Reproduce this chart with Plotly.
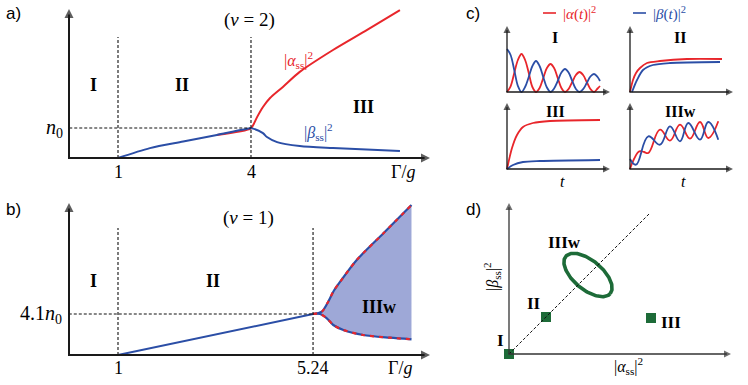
import numpy as np
import plotly.graph_objects as go

W, H = 748, 385
RED = '#e8262b'
BLUE = '#2b4ea6'
FILL = '#9ea8d7'
GREEN = '#1d6b38'
AXC = '#1a1a1a'
SERIF = 'Liberation Serif'
SANS = 'Liberation Sans'

# ---------------- data ----------------
# panel a (nu = 2): populations in units of n0 vs Gamma/g
a_base_x = [-0.1, 1.0]
a_base_y = [0.0, 0.0]
a_rise_x = [1.0, 1.72, 2.47, 3.23, 4.0]
a_rise_y = [0.0, 0.33, 0.55, 0.77, 0.99]
a_alpha_x = [4.0, 4.05, 4.14, 4.27, 4.43, 4.72, 5.1, 5.85, 6.62, 7.36]
a_alpha_y = [0.99, 1.1, 1.37, 1.7, 2.0, 2.37, 2.87, 3.6, 4.27, 4.93]
a_beta_x = [4.0, 4.05, 4.27, 4.36, 4.59, 5.1, 5.85, 7.36]
a_beta_y = [0.99, 0.98, 0.83, 0.7, 0.53, 0.4, 0.33, 0.23]
a_crit = [1, 4]          # Gamma/g thresholds
a_n0 = 1.0

# panel b (nu = 1)
b_base_x = [-0.07, 1.0, 5.24]
b_base_y = [0.0, 0.0, 4.1]
b_up_x = [5.24, 5.43, 5.57, 5.68, 5.83, 6.19, 6.77, 7.38]
b_up_y = [4.1, 4.33, 5.33, 6.33, 7.33, 9.5, 12.17, 15.0]
b_lo_x = [5.24, 5.39, 5.54, 5.68, 5.90, 6.33, 6.91, 7.38]
b_lo_y = [4.1, 4.1, 3.67, 3.0, 2.5, 2.0, 1.73, 1.57]
b_crit = [1, 5.24]
b_level = 4.1

# panel c: time traces (arbitrary units)
cI_t = [0, 3.6, 7.25, 10.9, 14.5, 18.1, 21.75, 25.4, 29, 32.6, 36.25, 39.9, 43.5,
        47.1, 50.75, 54.4, 58, 61.6, 65.25, 68.9, 72.5, 76.1, 79.75, 83.4, 87, 90.6, 93]
cI_beta = [43, 37, 22, 6, 0, 5, 15, 26, 31, 26, 15, 4.5, 0,
           3.5, 11, 19.5, 23, 19.5, 11, 3, 0, 2.8, 9, 15.5, 18, 15, 11]
cI_alpha = [0, 5.7, 19, 32, 38, 32, 19, 5, 0, 4, 14, 24, 28,
            24, 14, 4, 0, 3, 10, 17, 20, 17, 10, 3, 0, 3.5, 6]

cII_t_a = [0, 3, 6, 10, 17, 30, 57, 92]
cII_alpha = [0, 12, 19, 24, 29, 31, 33, 33]
cII_t_b = [2, 7, 13, 23, 40, 90]
cII_beta = [0, 12, 22, 27, 29, 30]

cIII_t_a = [0, 5, 10, 16, 26, 43, 93]
cIII_alpha = [0, 21, 34, 42, 46, 48, 49]
cIII_t_b = [0, 6, 16, 33, 93]
cIII_beta = [0, 4, 7, 8, 9]

cW_t_a = [0, 4, 9.3, 14, 18.3, 30, 40, 50, 60, 70, 78.3, 88.3]
cW_alpha = [0, 10, 17.7, 17, 16, 39.3, 28.3, 44.3, 30.3, 47, 31, 47.7]
cW_t_b = [0, 6, 18.3, 30, 40, 50, 58.3, 70, 78.3, 88.3]
cW_beta = [10, 4.3, 32.7, 24.3, 42.7, 27.7, 46, 29.3, 47, 29.3]

# panel d: steady states in (|alpha|^2, |beta|^2) plane
d_pts_x = [0, 37, 142]
d_pts_y = [0, 37, 36]
d_diag = [0, 141]
d_ell_center = (79, 79)
d_ell_axes = (29, 14.5)
d_ell_angle = -40  # degrees

# ---------------- layout helpers ----------------
panels = {
    '':  dict(box=(55, 435, 0, 195), xr=(1, 118, 44.33), yr=(0, 158, 30)),
    '2': dict(box=(55, 435, 195, 385), xr=(1, 118, 46.0), yr=(0, 355, 10)),
    '3': dict(box=(495, 618, 18, 100), xr=(0, 507, 1), yr=(0, 92, 1)),
    '4': dict(box=(618, 742, 18, 100), xr=(0, 630, 1), yr=(0, 92, 1)),
    '5': dict(box=(495, 618, 100, 178), xr=(0, 507, 1), yr=(0, 169, 1)),
    '6': dict(box=(618, 742, 100, 178), xr=(0, 630, 1), yr=(0, 169, 1)),
    '7': dict(box=(485, 745, 195, 385), xr=(0, 509, 1), yr=(0, 354, 1)),
    # full-figure overlay in pixel units, used for the axis arrows
    '8': dict(box=(0, W, 0, H), xr=(0, 0, 1), yr=(0, 0, -1)),
}

layout = dict(width=W, height=H, margin=dict(l=0, r=0, t=0, b=0),
              paper_bgcolor='white', plot_bgcolor='rgba(0,0,0,0)',
              showlegend=False)
for k, p in panels.items():
    L, R, T, B = p['box']
    xv, xp, sx = p['xr']
    yv, yp, sy = p['yr']
    layout['xaxis' + k] = dict(domain=[L / W, R / W],
                               range=[xv + (L - xp) / sx, xv + (R - xp) / sx],
                               visible=False, anchor='y' + k, fixedrange=True)
    layout['yaxis' + k] = dict(domain=[1 - B / H, 1 - T / H],
                               range=[yv - (B - yp) / sy, yv + (yp - T) / sy],
                               visible=False, anchor='x' + k, fixedrange=True)

fig = go.Figure()
fig.update_layout(**layout)


def line(x, y, ax, color, width=2.0, dash=None, spline=True, smoothing=0.8, **kw):
    fig.add_trace(go.Scatter(
        x=x, y=y, mode='lines', xaxis='x' + ax, yaxis='y' + ax,
        line=dict(color=color, width=width, dash=dash,
                  shape='spline' if spline else 'linear', smoothing=smoothing),
        hoverinfo='skip', **kw))


def P(x, y):
    return x / W, 1 - y / H


annotations = []
shapes = []
heads = dict(x=[], y=[], sym=[], size=[], color=[])


def text(x, y, s, size=17, color='black', family=SERIF, angle=0, xanchor='center'):
    px, py = P(x, y)
    annotations.append(dict(x=px, y=py, xref='paper', yref='paper', text=s,
                            showarrow=False, xanchor=xanchor, yanchor='middle',
                            textangle=angle,
                            font=dict(size=size, color=color, family=family)))


def axis_pair(ox, oy, top, right, width=2.0, color=AXC, head=9):
    # vertical axis with arrow at top, horizontal axis with arrow at right
    shapes.append(dict(type='line', xref='x8', yref='y8', x0=ox, y0=oy,
                       x1=ox, y1=top + head * 0.6, line=dict(color=color, width=width)))
    shapes.append(dict(type='line', xref='x8', yref='y8', x0=ox - width / 2, y0=oy,
                       x1=right - head * 0.6, y1=oy, line=dict(color=color, width=width)))
    for hx, hy, sym in ((ox, top, 'arrow-up'), (right, oy, 'arrow-right')):
        heads['x'].append(hx)
        heads['y'].append(hy)
        heads['sym'].append(sym)
        heads['size'].append(head)
        heads['color'].append(color)


def dline(x0, y0, x1, y1, ax, width=1.1, color='#111111', dash='3px,2px'):
    shapes.append(dict(type='line', xref='x' + ax, yref='y' + ax,
                       x0=x0, y0=y0, x1=x1, y1=y1,
                       line=dict(color=color, width=width, dash=dash)))


# ---------------- panel a ----------------
y_top_a = (158 - 37) / 30
for c in a_crit:
    dline(c, 0, c, y_top_a, '')
dline(-0.1, a_n0, a_crit[1], a_n0, '')
line(a_rise_x[-2:] + a_alpha_x[1:], a_rise_y[-2:] + a_alpha_y[1:], '', RED, 2.0)
line(a_base_x, a_base_y, '', BLUE, 2.0, spline=False)
line(a_rise_x + a_beta_x[1:], a_rise_y + a_beta_y[1:], '', BLUE, 2.0)
axis_pair(69, 158, 9, 430, 2.0)

text(13, 13, 'a)', 17, family=SANS)
text(249, 20, '(<i>ν</i> = 2)', 19)
text(93, 85, '<b>I</b>', 18)
text(182, 85, '<b>II</b>', 18)
text(363, 107, '<b>III</b>', 18)
text(298, 60, '|<i>α</i><sub>ss</sub>|<sup>2</sup>', 16, RED)
text(318, 132, '|<i>β</i><sub>ss</sub>|<sup>2</sup>', 16, BLUE)
text(54, 128, '<i>n</i><sub>0</sub>', 20)
text(118, 172, '1', 18)
text(251, 172, '4', 18)
text(403, 172, 'Γ/<i>g</i>', 18)

# ---------------- panel b ----------------
y_top_b = (355 - 228) / 10
for c in b_crit:
    dline(c, 0, c, y_top_b, '2')
dline(-0.07, b_level, b_crit[1], b_level, '2')
line(b_lo_x, b_lo_y, '2', 'rgba(0,0,0,0)', 0)
line(b_up_x, b_up_y, '2', 'rgba(0,0,0,0)', 0, fill='tonexty', fillcolor=FILL)
line(b_base_x, b_base_y, '2', BLUE, 2.0, spline=False)
for bx, by in ((b_up_x, b_up_y), (b_lo_x, b_lo_y)):
    line(bx, by, '2', BLUE, 2.2)
    line(bx, by, '2', RED, 2.2, dash='4px,5px')
axis_pair(69, 355, 203, 430, 2.0)

text(13, 210, 'b)', 17, family=SANS)
text(248, 218, '(<i>ν</i> = 1)', 19)
text(93, 281, '<b>I</b>', 18)
text(213, 281, '<b>II</b>', 18)
text(379, 307, '<b>IIIw</b>', 18)
text(64, 314, '4.1<i>n</i><sub>0</sub>', 20, xanchor='right')
text(118, 368, '1', 18)
text(313, 368, '5.24', 18)
text(400, 368, 'Γ/<i>g</i>', 18)

# ---------------- panel c ----------------
line(cI_t, cI_alpha, '3', RED, 1.8, smoothing=1.0)
line(cI_t, cI_beta, '3', BLUE, 1.8, smoothing=1.0)
line(cII_t_a, cII_alpha, '4', RED, 1.8)
line(cII_t_b, cII_beta, '4', BLUE, 1.8)
line(cIII_t_a, cIII_alpha, '5', RED, 1.8)
line(cIII_t_b, cIII_beta, '5', BLUE, 1.8)
line(cW_t_a, cW_alpha, '6', RED, 1.8, smoothing=1.2)
line(cW_t_b, cW_beta, '6', BLUE, 1.8, smoothing=1.2)

for (ox, oy) in ((507, 92), (630, 92), (507, 169), (630, 169)):
    axis_pair(ox, oy, oy - 66, ox + 103, 1.3, head=7)

text(473, 13, 'c)', 17, family=SANS)
shapes.append(dict(type='line', xref='paper', yref='paper',
                   x0=543 / W, x1=556 / W, y0=1 - 13 / H, y1=1 - 13 / H,
                   line=dict(color=RED, width=1.6)))
shapes.append(dict(type='line', xref='paper', yref='paper',
                   x0=633 / W, x1=646 / W, y0=1 - 13 / H, y1=1 - 13 / H,
                   line=dict(color=BLUE, width=1.6)))
text(561, 13, '|<i>α</i>(<i>t</i>)|<sup>2</sup>', 15, RED, xanchor='left')
text(651, 13, '|<i>β</i>(<i>t</i>)|<sup>2</sup>', 15, BLUE, xanchor='left')
text(555, 37, '<b>I</b>', 16)
text(680, 37, '<b>II</b>', 16)
text(555, 111, '<b>III</b>', 16)
text(680, 111, '<b>IIIw</b>', 16)
text(562, 181, '<i>t</i>', 16)
text(683, 181, '<i>t</i>', 16)

# ---------------- panel d ----------------
dline(d_diag[0], d_diag[0], d_diag[1], d_diag[1], '7', width=1.0, dash='3px,2px')
axis_pair(509, 354, 203, 731, 1.3, color='#333333', head=7)

phi = np.linspace(0, 2 * np.pi, 200)
th = np.deg2rad(d_ell_angle)
ea, eb = d_ell_axes
ex = d_ell_center[0] + ea * np.cos(phi) * np.cos(th) - eb * np.sin(phi) * np.sin(th)
ey = d_ell_center[1] + ea * np.cos(phi) * np.sin(th) + eb * np.sin(phi) * np.cos(th)
fig.add_trace(go.Scatter(x=ex, y=ey, mode='lines', xaxis='x7', yaxis='y7',
                         line=dict(color=GREEN, width=3.6), hoverinfo='skip'))
fig.add_trace(go.Scatter(x=d_pts_x, y=d_pts_y, mode='markers', xaxis='x7', yaxis='y7',
                         marker=dict(symbol='square', size=10, color=GREEN),
                         cliponaxis=False, hoverinfo='skip'))

text(473, 210, 'd)', 17, family=SANS)
text(564, 242, '<b>IIIw</b>', 17)
text(534, 303, '<b>II</b>', 17)
text(500, 340, '<b>I</b>', 17)
text(671, 322, '<b>III</b>', 17)
text(628, 366, '|<i>α</i><sub>ss</sub>|<sup>2</sup>', 16)
text(492, 277, '|<i>β</i><sub>ss</sub>|<sup>2</sup>', 16, angle=-90)

# arrow heads of all axes
fig.add_trace(go.Scatter(x=heads['x'], y=heads['y'], mode='markers',
                         xaxis='x8', yaxis='y8', cliponaxis=False,
                         marker=dict(symbol=heads['sym'], size=heads['size'],
                                     color=heads['color'], line=dict(width=0)),
                         hoverinfo='skip'))

fig.update_layout(annotations=annotations, shapes=shapes)
fig.write_html('out.html', config={'displayModeBar': False, 'staticPlot': True},
               post_script="document.body.style.margin='0';document.body.style.padding='0';")
